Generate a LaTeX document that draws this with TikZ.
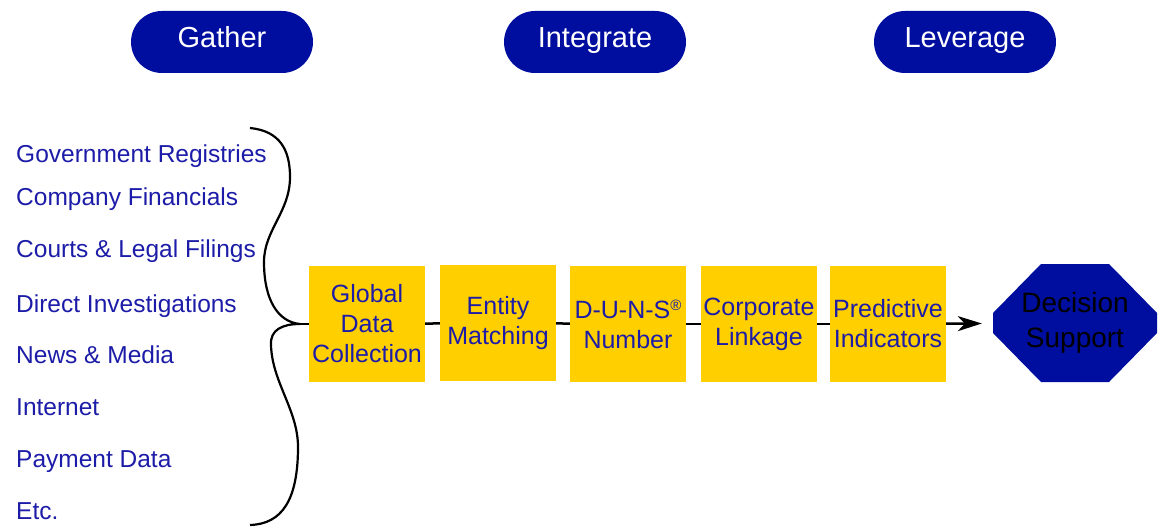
\documentclass[tikz,border=0pt]{standalone}
\usepackage{fontspec}
\setmainfont{Liberation Sans}
\usetikzlibrary{arrows.meta,calc}
\definecolor{pillblue}{RGB}{0,14,160}
\definecolor{listblue}{RGB}{28,28,168}
\definecolor{boxyellow}{RGB}{255,207,0}
\begin{document}
\begin{tikzpicture}[x=1pt,y=-1pt,
  pill/.style={fill=pillblue, text=white, rounded corners=31pt, minimum width=182pt, minimum height=62pt, inner sep=0pt, text height=22pt, text depth=10pt, font=\fontsize{29}{34}\selectfont},
  src/.style={anchor=base west, text=listblue, inner sep=0pt, font=\fontsize{24.5}{28}\selectfont},
  stage/.style={fill=boxyellow, text=listblue, minimum width=116pt, minimum height=116pt, inner sep=0pt, align=center, font=\fontsize{25}{30}\selectfont},
  link/.style={line width=2.5pt},
  bracestroke/.style={line width=2.2pt},
  octo/.style={minimum width=164pt, minimum height=118pt, inner sep=0pt, align=center, text=black, font=\fontsize{28}{35}\selectfont,
    path picture={\fill[pillblue]
      ($(path picture bounding box.north west)+(48pt,0pt)$) --
      ($(path picture bounding box.north east)+(-48pt,0pt)$) --
      ($(path picture bounding box.north east)+(0pt,-49pt)$) --
      ($(path picture bounding box.south east)+(0pt,49pt)$) --
      ($(path picture bounding box.south east)+(-48pt,0pt)$) --
      ($(path picture bounding box.south west)+(48pt,0pt)$) --
      ($(path picture bounding box.south west)+(0pt,49pt)$) --
      ($(path picture bounding box.north west)+(0pt,-49pt)$) -- cycle;}},
]
\useasboundingbox (0,0) rectangle (1162,527);

% phase pills
\node[pill] (gather) at (222,42) {Gather};
\node[pill] (integrate) at (595,42) {Integrate};
\node[pill] (leverage) at (965,42) {Leverage};

% sources
\node[src] (s1) at (16,162) {Government Registries};
\node[src] (s2) at (16,205) {Company Financials};
\node[src] (s3) at (16,257) {Courts \& Legal Filings};
\node[src] (s4) at (16,312) {Direct Investigations};
\node[src] (s5) at (16,363) {News \& Media};
\node[src] (s6) at (16,415) {Internet};
\node[src] (s7) at (16,467) {Payment Data};
\node[src] (s8) at (16,519) {Etc.};

% brace
\coordinate (bt) at (250,128);
\coordinate (tip) at (300,324);
\coordinate (bb) at (250,525);
\draw[bracestroke] (bt) .. controls (280,131) and (290,150) .. (290,177)
  .. controls (290,212) and (264,230) .. (264,262)
  .. controls (264,300) and (278,322) .. (tip)
  .. controls (282,324) and (270,330) .. (271,345)
  .. controls (272,382) and (298,410) .. (298,447)
  .. controls (298,500) and (282,524) .. (bb);

% stages
\node[stage] (b1) at (367,324) {Global\\Data\\Collection};
\node[stage] (b2) at (498,323) {Entity\\Matching};
\node[stage] (b3) at (628,324) {D-U-N-S\raisebox{8pt}{\fontsize{15}{15}\selectfont ®}\\Number};
\node[stage] (b4) at (759,324) {Corporate\\Linkage};
\node[stage] (b5) at (888,324) {Predictive\\Indicators};

% decision support
\node[octo] (ds) at (1075,323) {Decision\\Support};

% connectors
\draw[link] (tip) -- (b1);
\draw[link] (b1) -- (b2);
\draw[link] (b2) -- (b3);
\draw[link] (b3) -- (b4);
\draw[link] (b4) -- (b5);
\draw[link, -{Stealth[length=24pt,width=15pt,inset=7pt]}, shorten >=11pt] (b5) -- (ds);
\end{tikzpicture}
\end{document}
